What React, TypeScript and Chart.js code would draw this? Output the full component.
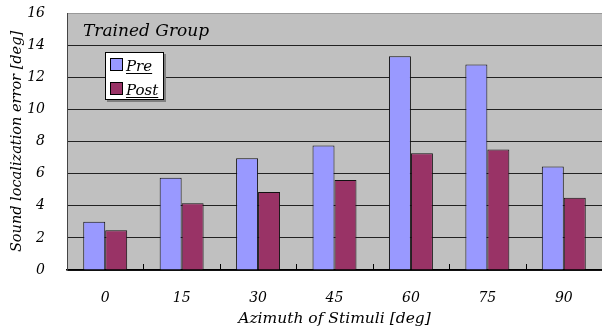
import React, { useEffect, useRef } from "react";
import { Chart, registerables } from "chart.js";

Chart.register(...registerables);

const categories = ["0", "15", "30", "45", "60", "75", "90"];
const preValues = [3.0, 5.75, 6.95, 7.75, 13.3, 12.8, 6.45];
const postValues = [2.48, 4.15, 4.85, 5.6, 7.27, 7.5, 4.5];
const seriesNames = ["Pre", "Post"];
const groupLabel = "Trained Group";
const xTitle = "Azimuth of Stimuli [deg]";
const yTitle = "Sound localization error [deg]";

const FONT = "'DejaVu Serif', serif";
const PRE_COLOR = "#9999FF";
const POST_COLOR = "#993366";

const overlayPlugin = {
  id: "overlay",
  beforeDraw(chart: any) {
    const { ctx, chartArea } = chart;
    ctx.save();
    ctx.fillStyle = "#C0C0C0";
    ctx.fillRect(chartArea.left, chartArea.top, chartArea.right - chartArea.left, chartArea.bottom - chartArea.top);
    ctx.restore();
  },
  afterDraw(chart: any) {
    const { ctx, chartArea } = chart;
    const xs = chart.scales.x;
    ctx.save();
    // inner tick marks at category boundaries
    const n = categories.length;
    const w = (chartArea.right - chartArea.left) / n;
    ctx.strokeStyle = "#000";
    ctx.lineWidth = 1;
    for (let i = 1; i < n; i++) {
      const px = Math.round(xs.getPixelForValue(i) - w / 2) + 0.5;
      ctx.beginPath();
      ctx.moveTo(px, chartArea.bottom);
      ctx.lineTo(px, chartArea.bottom - 6);
      ctx.stroke();
    }
    // group label
    ctx.fillStyle = "#000";
    ctx.font = `italic 17px ${FONT}`;
    ctx.textBaseline = "alphabetic";
    ctx.textAlign = "left";
    ctx.fillText(groupLabel, chartArea.left + 16, 36);

    // legend
    const lx = 105, ly = 52, lw = 59, lh = 48;
    ctx.fillStyle = "#808080";
    ctx.fillRect(lx + 2, ly + 2, lw, lh);
    ctx.fillStyle = "#fff";
    ctx.fillRect(lx, ly, lw, lh);
    ctx.strokeStyle = "#000";
    ctx.lineWidth = 1;
    ctx.strokeRect(lx + 0.5, ly + 0.5, lw - 1, lh - 1);
    const colors = [PRE_COLOR, POST_COLOR];
    ctx.font = `italic 15px ${FONT}`;
    seriesNames.forEach((name, i) => {
      const sy = 59 + i * 24;
      ctx.fillStyle = colors[i];
      ctx.fillRect(111, sy, 11, 11);
      ctx.strokeStyle = "#000";
      ctx.strokeRect(110.5, sy - 0.5, 12, 12);
      ctx.fillStyle = "#000";
      const bx = 126, by = sy + 12;
      ctx.fillText(name, bx, by);
      const tw = ctx.measureText(name).width;
      ctx.fillRect(bx, by + 2, tw, 1);
    });
    ctx.restore();
  },
};

export default function App() {
  const ref = useRef<HTMLCanvasElement>(null);
  useEffect(() => {
    if (!ref.current) return;
    const chart = new Chart(ref.current, {
      type: "bar",
      data: {
        labels: categories,
        datasets: [
          {
            label: seriesNames[0],
            data: preValues,
            backgroundColor: PRE_COLOR,
            borderColor: "#111",
            borderWidth: 1,
            borderSkipped: "bottom",
          },
          {
            label: seriesNames[1],
            data: postValues,
            backgroundColor: POST_COLOR,
            borderColor: "#111",
            borderWidth: 1,
            borderSkipped: "bottom",
          },
        ],
      },
      options: {
        animation: false,
        responsive: true,
        maintainAspectRatio: false,
        layout: { padding: { top: 13, right: 0, left: 0, bottom: 0 } },
        datasets: { bar: { barPercentage: 1, categoryPercentage: 0.575 } },
        plugins: {
          legend: { display: false },
          tooltip: { enabled: false },
        },
        scales: {
          x: {
            grid: { display: false, drawTicks: false },
            border: { display: true, color: "#000", width: 1.5 },
            ticks: {
              color: "#000",
              padding: 20,
              font: { family: FONT, size: 14, style: "italic" },
            },
            title: {
              display: true,
              text: xTitle,
              color: "#000",
              font: { family: FONT, size: 15.5, style: "italic" },
              padding: { top: 0, bottom: 2 },
            },
            afterFit(scale: any) {
              scale.height = 60;
              scale.paddingLeft = 0;
              scale.paddingRight = 0;
            },
          },
          y: {
            min: 0,
            max: 16,
            ticks: {
              stepSize: 2,
              color: "#000",
              padding: 22,
              font: { family: FONT, size: 14, style: "italic" },
            },
            grid: {
              drawTicks: false,
              color: (c: any) => (c.tick && c.tick.value === 16 ? "#999" : "#222"),
              lineWidth: 1,
            },
            border: { display: true, color: "#444", width: 1 },
            title: {
              display: true,
              text: yTitle,
              color: "#000",
              font: { family: FONT, size: 14.5, style: "italic" },
              padding: { top: 9, bottom: 0 },
            },
            afterFit(scale: any) {
              scale.width = 67;
              scale.paddingTop = 0;
              scale.paddingBottom = 0;
            },
          },
        },
      },
      plugins: [overlayPlugin],
    });
    return () => chart.destroy();
  }, []);
  return (
    <div style={{ position: "fixed", left: 0, top: 0, width: 602, height: 330, background: "#fff" }}>
      <canvas ref={ref} />
    </div>
  );
}
